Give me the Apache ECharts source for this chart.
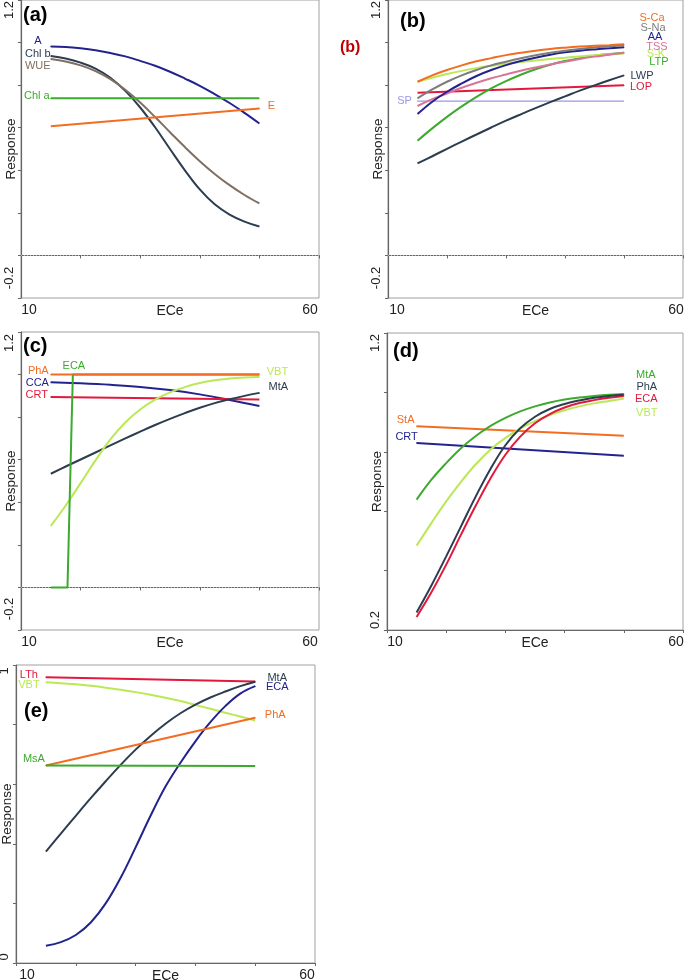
<!DOCTYPE html>
<html><head><meta charset="utf-8">
<script src="https://cdn.jsdelivr.net/npm/echarts@6/dist/echarts.min.js"></script>
<style>html,body{margin:0;padding:0;background:#fff}#c{width:685px;height:980px}</style>
</head><body><div id="c"></div>
<script>
const FONT = '"Liberation Sans", Arial, Helvetica, sans-serif';

// ---------- data ----------
const ECE = [15,17.5,20,22.5,25,27.5,30,32.5,35,37.5,40,42.5,45,47.5,50];
const ECE_END = [15,50];
const ECE_C8 = [15,20,25,30,35,40,45,50];
const X_TICK_LABELS = ['10','60'];
const X_NAME = 'ECe';
const Y_NAME = 'Response';
const Y_LABELS_ABC = ['-0.2','1.2'];
const Y_LABELS_D = ['0.2','1.2'];
const Y_LABELS_E = ['0','1'];
const PANEL_LETTERS = ['(a)','(b)','(c)','(d)','(e)'];

// (a)
const A_A    = [0.981,0.979,0.973,0.964,0.951,0.935,0.914,0.891,0.863,0.831,0.797,0.758,0.716,0.670,0.620];
const A_CHLB = [0.937,0.925,0.906,0.878,0.835,0.773,0.695,0.602,0.500,0.400,0.310,0.240,0.192,0.159,0.136];
const A_WUE  = [0.923,0.911,0.893,0.866,0.828,0.778,0.718,0.650,0.579,0.509,0.443,0.383,0.330,0.284,0.244];
const A_CHLA = [0.738,0.738];
const A_E    = [0.607,0.690];
// (b)
const B_SCA = [0.816,0.846,0.871,0.893,0.912,0.927,0.941,0.952,0.962,0.970,0.976,0.981,0.985,0.988,0.992];
const B_SNA = [0.738,0.780,0.816,0.846,0.871,0.893,0.910,0.926,0.940,0.952,0.962,0.970,0.977,0.982,0.987];
const B_AA  = [0.664,0.722,0.769,0.808,0.843,0.871,0.894,0.913,0.929,0.943,0.954,0.962,0.968,0.973,0.978];
const B_TSS = [0.702,0.734,0.761,0.788,0.811,0.832,0.850,0.868,0.883,0.897,0.910,0.923,0.934,0.943,0.952];
const B_SK  = [0.816,0.835,0.852,0.867,0.880,0.891,0.901,0.909,0.916,0.923,0.929,0.935,0.940,0.945,0.949];
const B_LTP = [0.539,0.597,0.651,0.700,0.745,0.785,0.819,0.849,0.875,0.896,0.913,0.927,0.938,0.946,0.952];
const B_LWP = [0.432,0.466,0.501,0.535,0.568,0.601,0.633,0.663,0.692,0.720,0.747,0.774,0.799,0.823,0.846];
const B_LOP = [0.764,0.800];
const B_SP  = [0.725,0.725];
// (c)
const C_PHA = [1.0,1.0];
const C_CCA = [0.964,0.959,0.952,0.942,0.927,0.907,0.881,0.852];
const C_CRT = [0.895,0.883];
const C_ECA_X = [15,17.8,18.7,50];
const C_ECA = [0,0,1,1];
const C_VBT = [0.289,0.385,0.490,0.597,0.695,0.775,0.836,0.882,0.916,0.941,0.960,0.973,0.981,0.986,0.989];
const C_MTA = [0.534,0.568,0.601,0.634,0.667,0.700,0.732,0.763,0.792,0.819,0.844,0.866,0.884,0.900,0.914];
// (d)
const D_MTA = [0.639,0.706,0.762,0.812,0.853,0.887,0.914,0.936,0.953,0.966,0.976,0.983,0.988,0.992,0.995];
const D_PHA = [0.259,0.350,0.448,0.549,0.650,0.743,0.822,0.879,0.918,0.944,0.961,0.973,0.982,0.988,0.992];
const D_ECA = [0.244,0.327,0.420,0.521,0.619,0.711,0.790,0.851,0.896,0.927,0.949,0.964,0.974,0.982,0.988];
const D_VBT = [0.484,0.560,0.633,0.699,0.758,0.808,0.847,0.878,0.903,0.924,0.940,0.953,0.963,0.971,0.979];
const D_STA = [0.886,0.854];
const D_CRT = [0.830,0.787];
// (e)
const E_LTH = [0.959,0.945];
const E_VBT = [0.942,0.939,0.935,0.930,0.924,0.917,0.909,0.900,0.890,0.879,0.866,0.853,0.840,0.827,0.814];
const E_MTA = [0.374,0.434,0.494,0.553,0.610,0.665,0.716,0.762,0.803,0.838,0.867,0.891,0.911,0.929,0.944];
const E_ECA = [0.058,0.070,0.094,0.136,0.200,0.286,0.388,0.494,0.592,0.672,0.744,0.808,0.862,0.904,0.929];
const E_PHA = [0.663,0.823];
const E_MSA = [0.663,0.661];

// ---------- styles ----------
const C_NAVY='#23238e', C_SLATE='#2b3d4f', C_TAUPE='#807064', C_GREEN='#3caa2c', C_ORANGE='#f26d21',
      C_GRAY='#7d7d7d', C_PINK='#d9739a', C_LIME='#bbe855', C_RED='#e3183d', C_LAV='#9b97e3';
const AX = '#666', TXT = '#222';

const GRIDS = [
  {left:21, top:0,   width:298, height:298},
  {left:388,top:0,   width:295, height:298},
  {left:21, top:332, width:298, height:298},
  {left:387,top:333, width:296, height:297},
  {left:16, top:665, width:299, height:298}
];
// [min,max,labels, shift of max label down(px), shift of min label up(px), name gap]
const YCFG = [
  [-0.2,1.2,Y_LABELS_ABC,10,20,3],
  [-0.2,1.2,Y_LABELS_ABC,10,20,3],
  [-0.2,1.2,Y_LABELS_ABC,11,21,3],
  [0.2,1.2,Y_LABELS_D,10,10,3],
  [0,1,Y_LABELS_E,6,6,2]
];
const XSHIFT = [[8,9],[9,7],[8,9],[8,7],[11,8]];

function near(a,b){return Math.abs(a-b)<1e-6;}

const xAxis = GRIDS.map((g,i)=>({
  type:'value', gridIndex:i, min:10, max:60, interval:10,
  name:X_NAME, nameLocation:'middle', nameGap:6, nameMoveOverlap:false,
  nameTextStyle:{fontSize:14, color:TXT, fontFamily:FONT},
  axisLine:{show:true, lineStyle:{color:AX, width:1.2}},
  axisTick:{show:true, length:3, lineStyle:{color:AX}},
  splitLine:{show:false},
  axisLabel:{show:true, margin:5, showMinLabel:true, showMaxLabel:true,
    formatter:v=> near(v,10)?'{l|'+X_TICK_LABELS[0]+'}':(near(v,60)?'{r|'+X_TICK_LABELS[1]+'}':''),
    rich:{
      l:{fontSize:14,color:TXT,fontFamily:FONT,padding:[0,0,0,XSHIFT[i][0]*2]},
      r:{fontSize:14,color:TXT,fontFamily:FONT,padding:[0,XSHIFT[i][1]*2,0,0]}
    }}
}));

const yAxis = GRIDS.map((g,i)=>{
  const [mn,mx,labs,dt,db,ng]=YCFG[i];
  return {
    type:'value', gridIndex:i, min:mn, max:mx, interval:0.2,
    name:Y_NAME, nameLocation:'middle', nameGap:ng, nameMoveOverlap:false,
    nameTextStyle:{fontSize:13.5, color:TXT, fontFamily:FONT},
    axisLine:{show:true, lineStyle:{color:AX, width:1.2}},
    axisTick:{show:true, length:3, lineStyle:{color:AX}},
    splitLine:{show:false},
    axisLabel:{show:true, rotate:90, margin:5, showMinLabel:true, showMaxLabel:true,
      formatter:v=> near(v,mx)?'{t|'+labs[1]+'}':(near(v,mn)?'{b|'+labs[0]+'}':''),
      rich:{
        t:{fontSize:13,color:TXT,fontFamily:FONT,padding:[0,dt*2,0,0]},
        b:{fontSize:13,color:TXT,fontFamily:FONT,padding:[0,0,0,db*2]}
      }}
  };
});

const ZERO_LINE = {silent:true, symbol:'none', label:{show:false}, z:1,
  lineStyle:{type:[1,2], color:'#b4b4b4', width:1}, data:[{yAxis:0}]};

function ln(gi, name, xs, ys, color, lab, extra){
  const data = xs.map((x,i)=>[x, ys[i]]);
  if (lab){
    const idx = lab.i==='last' ? data.length-1 : (lab.i||0);
    data[idx] = {value:data[idx], symbol:'circle', symbolSize:1,
      label:{show:true, position:'inside', offset:[lab.dx,lab.dy], formatter:name,
        color:color, fontSize:11, fontFamily:FONT}};
  }
  return Object.assign({type:'line', name, xAxisIndex:gi, yAxisIndex:gi, data,
    symbol:'none', showSymbol:true, smooth:0.4, silent:true, emphasis:{disabled:true},
    lineStyle:{color, width:2}, itemStyle:{color}, z:2}, extra||{});
}
const F = {i:0}, L = {i:'last'};
function at(p,dx,dy){return {i:p.i,dx,dy};}

const series = [
  // (a)
  ln(0,'A',ECE,A_A,C_NAVY,at(F,-13,-6),{markLine:ZERO_LINE}),
  ln(0,'Chl b',ECE,A_CHLB,C_SLATE,at(F,-13,-2)),
  ln(0,'WUE',ECE,A_WUE,C_TAUPE,at(F,-13,7)),
  ln(0,'Chl a',ECE_END,A_CHLA,C_GREEN,at(F,-14,-2)),
  ln(0,'E',ECE_END,A_E,C_ORANGE,at(L,12,-3)),
  // (b)
  ln(1,'SP',ECE_END,B_SP,C_LAV,at(F,-13,0),{markLine:ZERO_LINE, lineStyle:{color:C_LAV,width:1.4}}),
  ln(1,'LOP',ECE_END,B_LOP,C_RED,at(L,17,2)),
  ln(1,'LWP',ECE,B_LWP,C_SLATE,at(L,18,1)),
  ln(1,'LTP',ECE,B_LTP,C_GREEN,at(L,35,9)),
  ln(1,'S-K',ECE,B_SK,C_LIME,at(L,32,1)),
  ln(1,'TSS',ECE,B_TSS,C_PINK,at(L,33,-6)),
  ln(1,'AA',ECE,B_AA,C_NAVY,at(L,31,-10)),
  ln(1,'S-Na',ECE,B_SNA,C_GRAY,at(L,29,-17)),
  ln(1,'S-Ca',ECE,B_SCA,C_ORANGE,at(L,28,-26)),
  // (c)
  ln(2,'CCA',ECE_C8,C_CCA,C_NAVY,at(F,-13.5,0.5),{markLine:ZERO_LINE}),
  ln(2,'CRT',ECE_END,C_CRT,C_RED,at(F,-14,-1.5)),
  ln(2,'MtA',ECE,C_MTA,C_SLATE,at(L,19,-6)),
  ln(2,'VBT',ECE,C_VBT,C_LIME,at(L,18,-5)),
  ln(2,'ECA',C_ECA_X,C_ECA,C_GREEN,{i:2,dx:1,dy:-8.5},{smooth:false, z:3}),
  ln(2,'PhA',ECE_END,C_PHA,C_ORANGE,at(F,-12.5,-3.5),{z:3}),
  // (d)
  ln(3,'StA',ECE_END,D_STA,C_ORANGE,at(F,-11,-6)),
  ln(3,'CRT',ECE_END,D_CRT,C_NAVY,at(F,-10,-6)),
  ln(3,'MtA',ECE,D_MTA,C_GREEN,at(L,22,-19)),
  ln(3,'VBT',ECE,D_VBT,C_LIME,at(L,23,14)),
  ln(3,'ECA',ECE,D_ECA,C_RED,at(L,22.5,3.5)),
  ln(3,'PhA',ECE,D_PHA,C_SLATE,at(L,23,-7.5)),
  // (e)
  ln(4,'LTh',ECE_END,E_LTH,C_RED,at(F,-17,-2)),
  ln(4,'VBT',ECE,E_VBT,C_LIME,at(F,-17,3)),
  ln(4,'MtA',ECE,E_MTA,C_SLATE,at(L,22,-4)),
  ln(4,'ECA',ECE,E_ECA,C_NAVY,at(L,22,1)),
  ln(4,'PhA',ECE_END,E_PHA,C_ORANGE,at(L,20,-3)),
  ln(4,'MsA',ECE_END,E_MSA,C_GREEN,at(F,-12,-6))
];

const LETTER_POS = [[23,5],[400,11],[23,336],[393,341],[24,701]];
const title = PANEL_LETTERS.map((t,i)=>({text:t, left:LETTER_POS[i][0], top:LETTER_POS[i][1], padding:0,
  textStyle:{fontSize:20, fontWeight:'bold', color:'#000', fontFamily:FONT}}));
title.push({text:PANEL_LETTERS[1], left:340, top:40, padding:0,
  textStyle:{fontSize:16, fontWeight:'bold', color:'#c00000', fontFamily:FONT}});

const chart = echarts.init(document.getElementById('c'), null, {renderer:'canvas'});
chart.setOption({
  animation:false,
  backgroundColor:'#fff',
  title,
  grid: GRIDS.map(g=>Object.assign({show:true, borderColor:'#a0a0a0', borderWidth:1, backgroundColor:'transparent', outerBoundsMode:'none', containLabel:false}, g)),
  xAxis, yAxis, series
});
</script></body></html>
